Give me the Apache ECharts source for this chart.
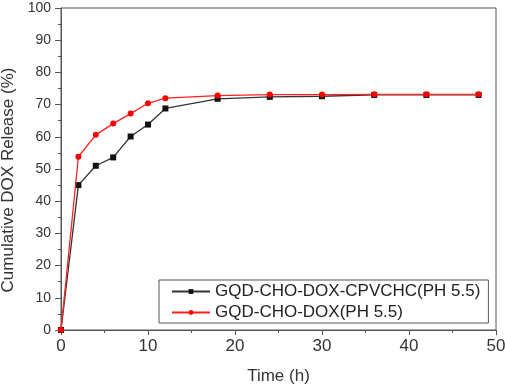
<!DOCTYPE html>
<html>
<head>
<meta charset="utf-8">
<script src="https://cdn.jsdelivr.net/npm/echarts@6/dist/echarts.min.js"></script>
<style>
    * { margin: 0; padding: 0; }
    html, body { background: #fff; }
</style>
</head>
<body>
<div id="chart" style="width: 505px; height: 386px;"></div>
<script>
    // data
    var hours = [0, 2, 4, 6, 8, 10, 12, 18, 24, 30, 36, 42, 48];
    var cpvchcRelease = [0, 45.0, 51.0, 53.6, 60.1, 63.8, 68.8, 71.8, 72.4, 72.6, 73.0, 73.0, 73.0];
    var doxRelease = [0, 53.8, 60.6, 64.1, 67.2, 70.4, 72.0, 72.8, 73.1, 73.1, 73.2, 73.2, 73.2];
    var seriesNames = ['GQD-CHO-DOX-CPVCHC(PH 5.5)', 'GQD-CHO-DOX(PH 5.5)'];

    function pairs(xs, ys) {
        return xs.map(function (x, i) { return [x, ys[i]]; });
    }

    var axisColor = '#555';
    var textColor = '#333';
    var font = 'Liberation Sans, Arial, sans-serif';

    var option = {
        backgroundColor: '#fff',
        animation: false,
        grid: {
            left: 61, right: 9, top: 8, bottom: 56,
            outerBoundsMode: 'none',
            containLabel: false,
            show: true, borderColor: axisColor, borderWidth: 1
        },
        legend: {
            orient: 'vertical',
            left: 159, top: 280,
            itemGap: 4,
            itemWidth: 38,
            itemHeight: 6,
            padding: [3, 8, 2, 12],
            borderColor: axisColor,
            borderWidth: 1,
            textStyle: { fontFamily: font, fontSize: 17, color: '#222' },
            data: seriesNames
        },
        xAxis: {
            type: 'value',
            min: 0, max: 50, interval: 10,
            name: 'Time (h)',
            nameLocation: 'middle',
            nameGap: 38,
            nameTextStyle: { fontFamily: font, fontSize: 17, color: textColor },
            axisLine: { lineStyle: { color: axisColor } },
            axisTick: { show: true, length: 5, lineStyle: { color: axisColor } },
            minorTick: { show: true, splitNumber: 2, length: 3, lineStyle: { color: axisColor } },
            axisLabel: { fontFamily: font, fontSize: 17, color: textColor, margin: 8 },
            splitLine: { show: false }
        },
        yAxis: {
            type: 'value',
            min: 0, max: 100, interval: 10,
            name: 'Cumulative DOX Release (%)',
            nameLocation: 'middle',
            nameGap: 44,
            nameTextStyle: { fontFamily: font, fontSize: 17, color: textColor, padding: [0, 22, 0, 0] },
            axisLine: { show: true, lineStyle: { color: axisColor } },
            axisTick: { show: true, length: 6, lineStyle: { color: axisColor } },
            minorTick: { show: true, splitNumber: 2, length: 3, lineStyle: { color: axisColor } },
            axisLabel: { fontFamily: font, fontSize: 14, color: textColor, margin: 10 },
            splitLine: { show: false }
        },
        series: [
            {
                name: seriesNames[0],
                type: 'line',
                data: pairs(hours, cpvchcRelease),
                symbol: 'rect',
                symbolSize: 6,
                itemStyle: { color: '#111' },
                lineStyle: { color: '#333', width: 1.3 },
                z: 2
            },
            {
                name: seriesNames[1],
                type: 'line',
                data: pairs(hours, doxRelease),
                symbol: 'circle',
                symbolSize: 6,
                itemStyle: { color: '#ff0000' },
                lineStyle: { color: '#ff2020', width: 1.3 },
                z: 3
            }
        ]
    };

    var myChart = echarts.init(document.getElementById('chart'));
    myChart.setOption(option);
</script>
</body>
</html>
